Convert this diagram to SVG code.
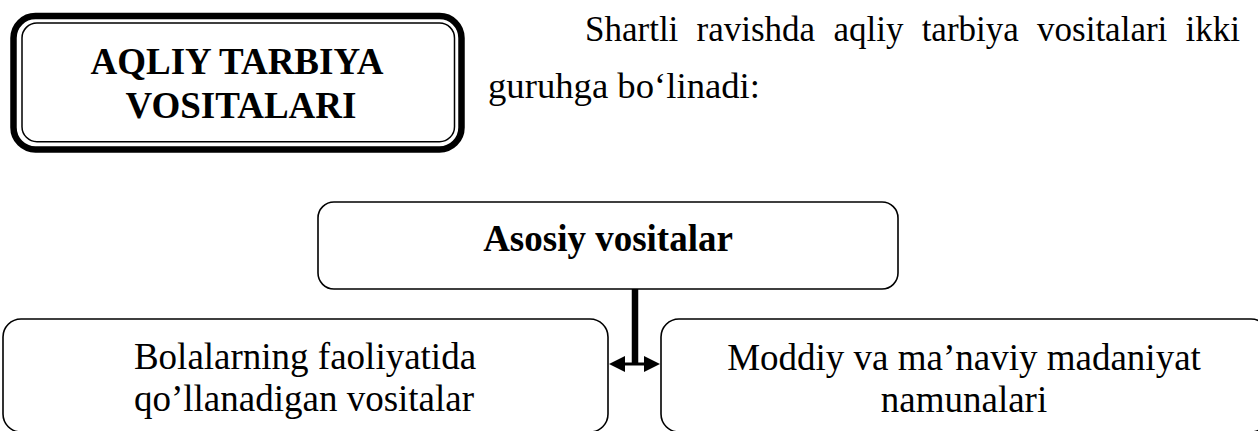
<svg xmlns="http://www.w3.org/2000/svg" width="1258" height="431" viewBox="0 0 1258 431" font-family="'Liberation Serif', 'DejaVu Serif', serif">
<style>
.t{font-family:'Liberation Serif','DejaVu Serif',serif;fill:#000}
.b{font-weight:bold;font-size:37px}
.r{font-size:37px}
.box{fill:#fff;stroke:#000;stroke-width:1.6}
.ah{fill:#000}
</style>
<rect width="1258" height="431" fill="#fff"/>
<g id="title">
<rect x="13.5" y="16" width="448" height="133.5" rx="22" fill="#fff" stroke="#000" stroke-width="6.5"/>
<rect x="22" y="23" width="432.5" height="118.7" rx="15" fill="none" stroke="#000" stroke-width="1.5"/>
<text class="t b" x="237" y="74" text-anchor="middle" font-size="38">AQLIY TARBIYA</text>
<text class="t b" x="241" y="118" text-anchor="middle" font-size="38">VOSITALARI</text>
</g>
<g id="intro">
<text class="t" font-size="35" x="585" y="41" word-spacing="9.5">Shartli ravishda aqliy tarbiya vositalari ikki</text>
<text class="t" font-size="35" x="488" y="98" textLength="272" lengthAdjust="spacingAndGlyphs">guruhga bo‘linadi:</text>
</g>
<g id="asosiy">
<rect class="box" x="318" y="202" width="580" height="87" rx="16" stroke-width="2"/>
<text class="t b" x="608" y="251" text-anchor="middle">Asosiy vositalar</text>
</g>
<g id="bolalar">
<rect class="box" x="3" y="319" width="605" height="113" rx="18"/>
<text class="t r" x="305" y="369" text-anchor="middle">Bolalarning faoliyatida</text>
<text class="t r" x="304" y="411" text-anchor="middle">qo’llanadigan vositalar</text>
</g>
<g id="moddiy">
<rect class="box" x="661" y="319" width="608" height="113" rx="18"/>
<text class="t r" x="964" y="370" text-anchor="middle">Moddiy va ma’naviy madaniyat</text>
<text class="t r" x="964" y="412" text-anchor="middle">namunalari</text>
</g>
<g id="connectors">
<line x1="635" y1="289" x2="635" y2="364" stroke="#000" stroke-width="6.5"/>
<line x1="620" y1="364" x2="650" y2="364" stroke="#000" stroke-width="3"/>
<polygon class="ah" points="609,364 625,356 625,372"/>
<polygon class="ah" points="660,364 644,356 644,372"/>
</g>
</svg>
